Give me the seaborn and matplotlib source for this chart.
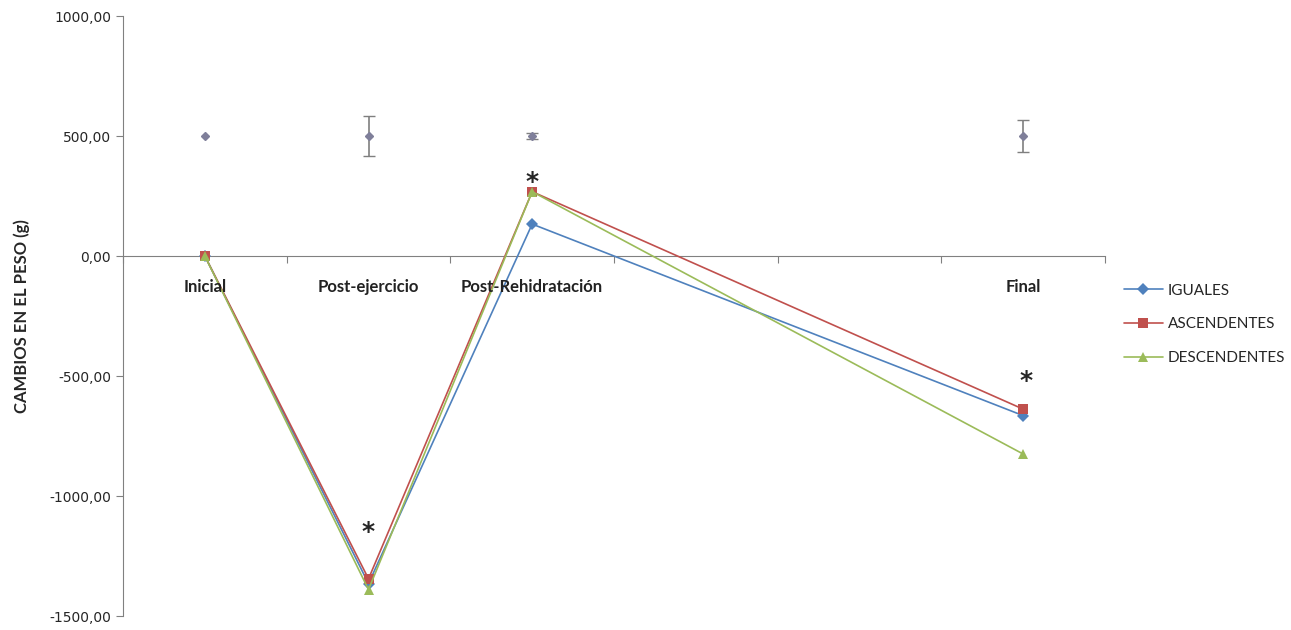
import numpy as np
import pandas as pd
import matplotlib
matplotlib.use("Agg")
import matplotlib.pyplot as plt
import seaborn as sns

# categories (4th and 5th slots are empty in the original chart)
categorias = ["Inicial", "Post-ejercicio", "Post-Rehidratación", "", "", "Final"]
pos_datos = [0, 1, 2, 5]

iguales = [0, -1365, 133, -665]
ascendentes = [0, -1345, 268, -638]
descendentes = [0, -1390, 268, -825]

# gray reference points with error bars
ref_valores = [500, 500, 500, 500]
ref_error = [0, 83, 12, 67]

# asterisks (category position, y value)
asteriscos = [(1, -1150), (2, 310), (5.02, -520)]

series = ["IGUALES", "ASCENDENTES", "DESCENDENTES"]
colores = {"IGUALES": "#4f81bd", "ASCENDENTES": "#c0504d", "DESCENDENTES": "#9bbb59"}
marcadores = {"IGUALES": "D", "ASCENDENTES": "s", "DESCENDENTES": "^"}

df = pd.DataFrame({
    "x": pos_datos * 3,
    "valor": iguales + ascendentes + descendentes,
    "grupo": [s for s in series for _ in pos_datos],
})

sns.set_style("white")
plt.rcParams['font.family'] = ['DejaVu Sans']

fig = plt.figure(figsize=(12.91, 6.30), dpi=100)
ax = fig.add_axes([0.0953, 0.0222, 0.7606, 0.9524])

ax.errorbar(pos_datos[1:], ref_valores[1:], yerr=ref_error[1:], fmt="D", color="#7f7f9a",
            ecolor="#7f7f7f", elinewidth=1.2, capsize=4, markersize=4.5, zorder=2)
ax.plot(pos_datos[:1], ref_valores[:1], "D", color="#7f7f9a", markersize=4.5, zorder=2)

sns.lineplot(data=df, x="x", y="valor", hue="grupo", style="grupo",
             palette=colores, markers=marcadores, dashes=False, sort=False,
             linewidth=1.2, markersize=6.5, markeredgewidth=0, ax=ax, zorder=3)

for xa, ya in asteriscos:
    ax.text(xa, ya, "*", ha="center", va="center", fontsize=18, fontweight="bold")

ax.set_xlim(-0.5, 5.5)
ax.set_ylim(-1500, 1000)
ax.set_yticks(np.arange(-1500, 1001, 500))
ax.set_yticklabels([f"{v:.2f}".replace(".", ",") for v in np.arange(-1500, 1001, 500)],
                   fontsize=9.5, color="#333333")
ax.tick_params(axis="y", length=5, width=0.8, color="#808080", direction="out", left=True)

# category boundaries as tick marks, labels at centres
ax.set_xticks(np.arange(-0.5, 5.6, 1.0))
ax.set_xticklabels([])
ax.tick_params(axis="x", length=5, width=0.8, color="#808080", direction="out", bottom=True)
for i, c in enumerate(categorias):
    ax.text(i, -130, c, ha="center", va="center", fontsize=12, fontweight="bold",
            family="Lato", color="#222222")

for s in ["top", "right"]:
    ax.spines[s].set_visible(False)
ax.spines["left"].set_color("#808080")
ax.spines["bottom"].set_color("#808080")
ax.spines["bottom"].set_position(("data", 0))
ax.spines["left"].set_position(("data", -0.5))

ax.set_xlabel("")
ax.set_ylabel("CAMBIOS EN EL PESO (g)", fontsize=12, fontweight="bold", family="Lato",
              labelpad=14)

leg = ax.legend(loc="upper left", bbox_to_anchor=(1.005, 0.577), frameon=False,
                handlelength=2.6, labelspacing=1.3, handletextpad=0.3,
                prop={"family": "Lato", "size": 11})

fig.savefig("out.png", dpi=100)
